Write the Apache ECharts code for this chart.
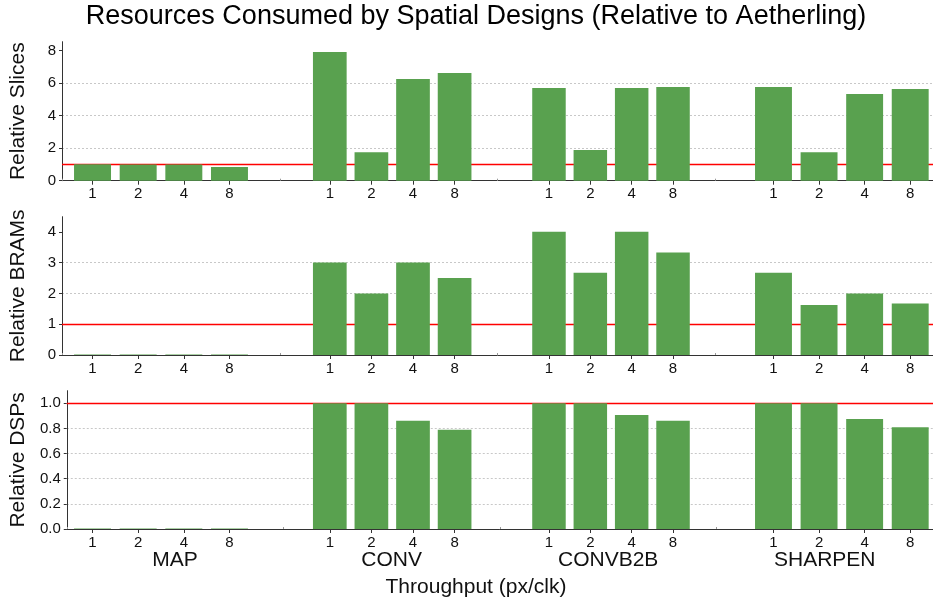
<!DOCTYPE html>
<html><head><meta charset="utf-8">
<script src="https://cdn.jsdelivr.net/npm/echarts@6/dist/echarts.min.js"></script>
<style>html,body{margin:0;padding:0;background:#fff}#c{width:933px;height:603px}</style>
</head><body><div id="c"></div>
<script>
// ---- data ----
const designs = ['MAP', 'CONV', 'CONVB2B', 'SHARPEN'];
const throughputs = ['1', '2', '4', '8'];
// one inner array per design, values per throughput
const relSlices = [[1.01, 1.0, 1.0, 0.84], [7.92, 1.75, 6.26, 6.63], [5.70, 1.89, 5.70, 5.77], [5.77, 1.75, 5.34, 5.64]];
const relBRAMs  = [[0.02, 0.02, 0.02, 0.02], [3.0, 2.0, 3.0, 2.5], [4.0, 2.67, 4.0, 3.33], [2.67, 1.62, 2.0, 1.67]];
const relDSPs   = [[0.004, 0.004, 0.004, 0.004], [1.0, 1.0, 0.86, 0.79], [1.0, 1.0, 0.907, 0.86], [1.0, 1.0, 0.875, 0.81]];
const rowNames = ['Relative Slices', 'Relative BRAMs', 'Relative DSPs'];
const sliceTicks = [0, 2, 4, 6, 8];
const bramTicks = [0, 1, 2, 3, 4];
const dspTicks = [0, 0.2, 0.4, 0.6, 0.8, 1.0];
const referenceLevel = 1;

// ---- layout ----
const FONT = "'Liberation Sans', Arial, sans-serif";
const rowData = [relSlices, relBRAMs, relDSPs];
const rowTicks = [sliceTicks, bramTicks, dspTicks];
const rowMax = [8.55, 4.49, 1.10];
const rowInterval = [2, 1, 0.2];
const rowDigits = [0, 0, 1];
const rowTop = [41.7, 216.7, 390.7];
const rowHeight = [139, 138.3, 138.3];
const panelLeft = [69.7, 309, 528.3, 750.7];
const panelRight = [680.7, 457.6, 239.3, 0];

const grids = [], xAxes = [], yAxes = [], series = [];
for (let r = 0; r < 3; r++) {
  grids.push({left: 62, right: -7, top: rowTop[r], height: rowHeight[r]});
  xAxes.push({
    type: 'category', gridIndex: r, data: designs,
    axisLine: {show: true, lineStyle: {color: '#333', width: 1}},
    axisTick: {show: true, inside: true, length: 2, lineStyle: {color: '#999'}},
    axisLabel: {show: r === 2, fontSize: 21, margin: 21, color: '#111', fontFamily: FONT},
    splitLine: {show: false}
  });
  const d = rowDigits[r];
  yAxes.push({
    type: 'value', gridIndex: r, min: 0, max: rowMax[r], interval: rowInterval[r],
    name: rowNames[r], nameLocation: 'middle', nameGap: 33,
    nameTextStyle: {fontSize: 21, color: '#111', fontFamily: FONT},
    axisLine: {show: true, lineStyle: {color: '#333', width: 1}},
    axisTick: {show: true, length: 3, lineStyle: {color: '#333'}, customValues: rowTicks[r]},
    axisLabel: {fontSize: 15, color: '#111', margin: 6, fontFamily: FONT,
      customValues: rowTicks[r], formatter: v => Number(v).toFixed(d)},
    splitLine: {show: true, showMaxLine: false, lineStyle: {color: '#c8c8c8', type: [2, 2], width: 1}}
  });
  series.push({
    type: 'line', xAxisIndex: r, yAxisIndex: r, data: [], z: 1, silent: true,
    markLine: {silent: true, symbol: 'none', z: 1, animation: false,
      label: {show: false},
      lineStyle: {color: '#ff0000', width: 1.3, type: 'solid'},
      data: [{yAxis: referenceLevel}]}
  });
}
for (let r = 0; r < 3; r++) {
  for (let p = 0; p < 4; p++) {
    const idx = grids.length;
    grids.push({left: panelLeft[p], right: panelRight[p], top: rowTop[r], height: rowHeight[r]});
    xAxes.push({
      type: 'category', gridIndex: idx, data: throughputs,
      axisLine: {show: false},
      axisTick: {show: true, alignWithLabel: true, length: 4, lineStyle: {color: '#333'}},
      axisLabel: {fontSize: 15, color: '#111', margin: 6, fontFamily: FONT},
      splitLine: {show: false}
    });
    yAxes.push({type: 'value', gridIndex: idx, min: 0, max: rowMax[r], show: false, splitLine: {show: false}});
    series.push({
      type: 'bar', xAxisIndex: idx, yAxisIndex: idx, data: rowData[r][p],
      barCategoryGap: '19%', z: 3, silent: true,
      itemStyle: {color: '#59A14F'}
    });
  }
}

const chart = echarts.init(document.getElementById('c'), null, {renderer: 'canvas'});
chart.setOption({
  animation: false,
  backgroundColor: '#fff',
  grid: grids, xAxis: xAxes, yAxis: yAxes, series: series,
  graphic: [
    {type: 'text', x: 476, y: 17, style: {text: 'Resources Consumed by Spatial Designs (Relative to Aetherling)',
      align: 'center', verticalAlign: 'middle', textAlign: 'center', textVerticalAlign: 'middle',
      fontSize: 27, fontFamily: FONT, fill: '#000'}},
    {type: 'text', x: 476, y: 587, style: {text: 'Throughput (px/clk)',
      align: 'center', verticalAlign: 'middle', textAlign: 'center', textVerticalAlign: 'middle',
      fontSize: 21, fontFamily: FONT, fill: '#111'}}
  ]
});
</script></body></html>
